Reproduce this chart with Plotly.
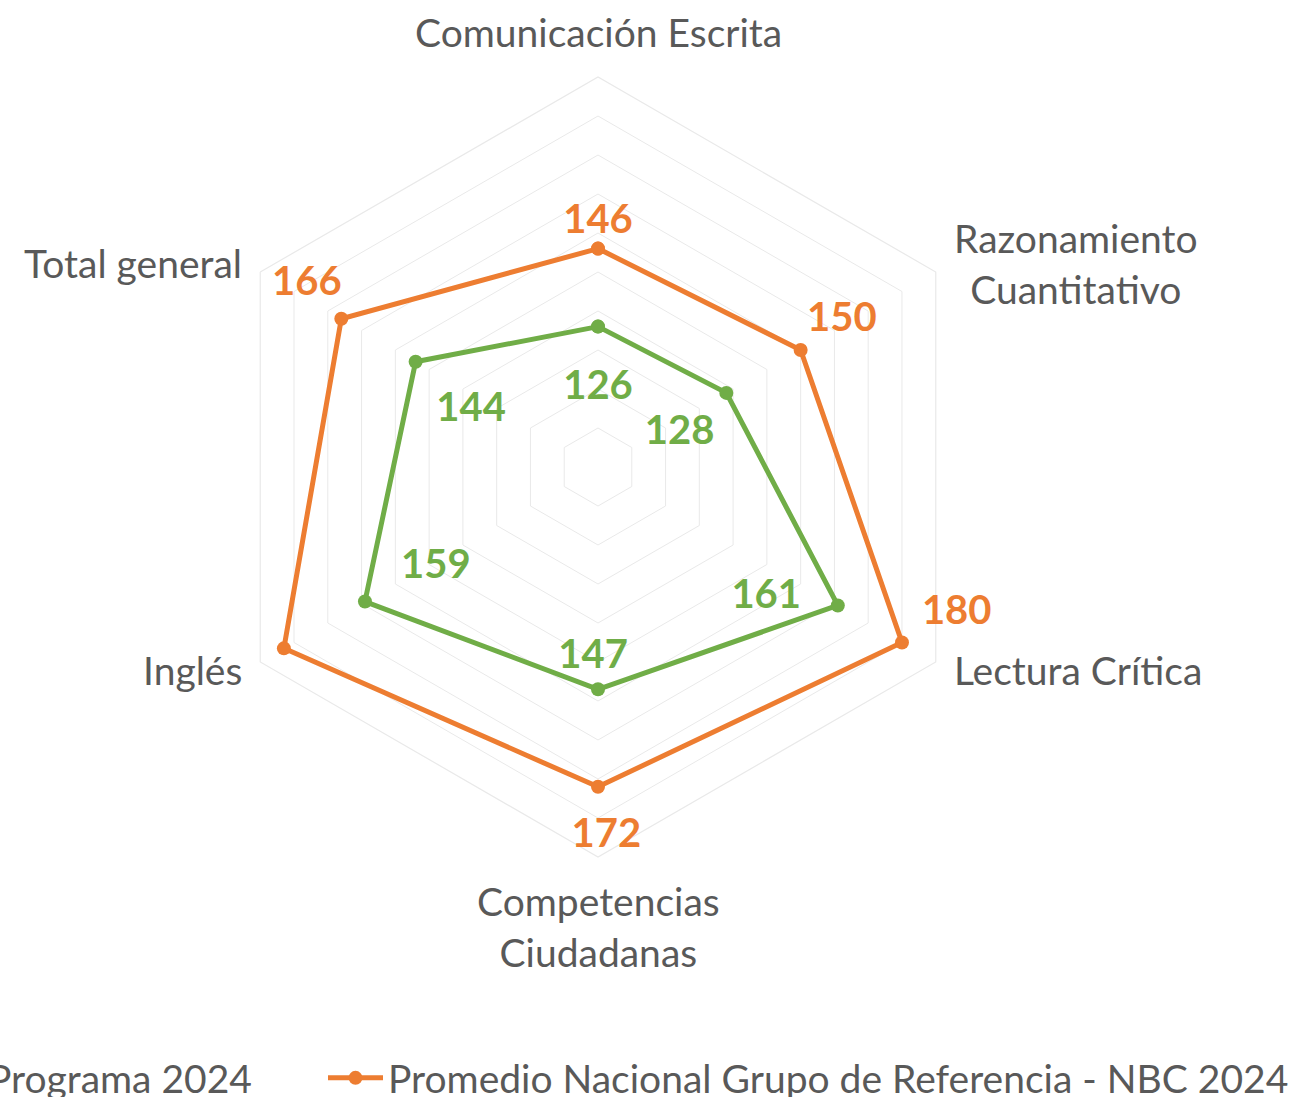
import plotly.graph_objects as go

# Categories (clockwise from the top) and the two score series
categories = [
    "Comunicación Escrita",
    "Razonamiento Cuantitativo",
    "Lectura Crítica",
    "Competencias Ciudadanas",
    "Inglés",
    "Total general",
]
programa_2024 = [126, 128, 161, 147, 159, 144]
nacional_nbc_2024 = [146, 150, 180, 172, 183, 166]

GREEN = "#70AD47"
ORANGE = "#ED7D31"
GRID = "#E9E9E9"
TEXT = "#595959"
FONT = "Lato"

W, H = 1296, 1097
CX, CY, R = 598, 467, 390  # chart centre and outer radius in pixels
R_MIN, R_MAX = 90, 190
LABEL_DROP = 4  # px: value labels sit slightly lower than the text centre

# Data-label nudges per point: (radial units, degrees clockwise)
green_nudge = [(-15, 0), (-15, 5.5), (-17, 7), (-9, 1.5), (-20.5, -1), (-18, -4.7)]
orange_nudge = [(7.6, 0), (13.4, -1.6), (9, -8.3), (11.9, -1.3), (9.2, 9), (12.6, 2.6)]

n = len(categories)
step = 360 / n


def closed(seq):
    return list(seq) + [seq[0]]


fig = go.Figure()

series = [
    ("Programa 2024", programa_2024, GREEN, green_nudge, "legend"),
    ("Promedio Nacional Grupo de Referencia - NBC 2024", nacional_nbc_2024, ORANGE, orange_nudge, "legend2"),
]

for name, values, color, nudge, leg in series:
    fig.add_trace(go.Scatterpolar(
        r=closed(values), theta=closed(categories),
        name=name, mode="lines+markers",
        line=dict(color=color, width=5),
        marker=dict(color=color, size=14),
        legend=leg, subplot="polar",
    ))

# Value labels on an overlaid polar with a numeric angle axis
for name, values, color, nudge, leg in series:
    fig.add_trace(go.Scatterpolar(
        r=[v + d[0] for v, d in zip(values, nudge)],
        theta=[i * step + d[1] for i, d in enumerate(nudge)],
        mode="text",
        text=[str(v) for v in values],
        textposition="middle center",
        textfont=dict(family=FONT, size=40, color=color, weight="bold"),
        showlegend=False, hoverinfo="skip",
        subplot="polar2", cliponaxis=False,
    ))

# Category names around the hexagon
SIDE_DX = R * 0.866 + 16
cat_anchor = [
    (CX, CY - R - 45, "center"),
    (CX + SIDE_DX, CY - 204, "left"),
    (CX + SIDE_DX, CY + 203, "left"),
    (CX, CY + R + 69, "center"),
    (CX - SIDE_DX, CY + 203, "right"),
    (CX - SIDE_DX, CY - 204, "right"),
]
wrapped = {
    "Razonamiento Cuantitativo": "Razonamiento<br>Cuantitativo",
    "Competencias Ciudadanas": "Competencias<br>Ciudadanas",
}
for cat, (px, py, anchor) in zip(categories, cat_anchor):
    fig.add_annotation(
        x=px / W, y=(H - py) / H, xref="paper", yref="paper",
        text=wrapped.get(cat, cat), showarrow=False,
        xanchor=anchor, yanchor="middle", align="center",
        font=dict(family=FONT, size=39, color=TEXT),
    )

legend_style = dict(
    orientation="h",
    font=dict(family=FONT, size=39, color=TEXT),
    bgcolor="rgba(0,0,0,0)",
    yanchor="middle",
    y=(H - 1078) / H,
    itemwidth=55,
)

domain = dict(x=[(CX - R) / W, (CX + R) / W],
              y=[(H - CY - R) / H, (H - CY + R) / H])
label_domain = dict(x=domain["x"],
                    y=[(H - CY - LABEL_DROP - R) / H, (H - CY - LABEL_DROP + R) / H])

fig.update_layout(
    width=W, height=H,
    margin=dict(l=0, r=0, t=0, b=0, autoexpand=False),
    paper_bgcolor="white",
    plot_bgcolor="white",
    showlegend=True,
    legend=dict(x=257 / W, xanchor="right", **legend_style),
    legend2=dict(x=323 / W, xanchor="left", **legend_style),
    polar=dict(
        domain=domain,
        bgcolor="white",
        gridshape="linear",
        radialaxis=dict(
            range=[R_MIN, R_MAX], dtick=10, tick0=R_MIN,
            showticklabels=False, ticks="",
            showline=False, gridcolor=GRID, gridwidth=1.2,
        ),
        angularaxis=dict(
            rotation=90, direction="clockwise",
            showgrid=False, showline=True, linecolor=GRID, linewidth=1.2,
            showticklabels=False, ticks="",
        ),
    ),
    polar2=dict(
        domain=label_domain,
        bgcolor="rgba(0,0,0,0)",
        radialaxis=dict(range=[R_MIN, R_MAX], visible=False),
        angularaxis=dict(
            type="linear", thetaunit="degrees",
            rotation=90, direction="clockwise", visible=False,
        ),
    ),
)

fig.write_html("out.html")
